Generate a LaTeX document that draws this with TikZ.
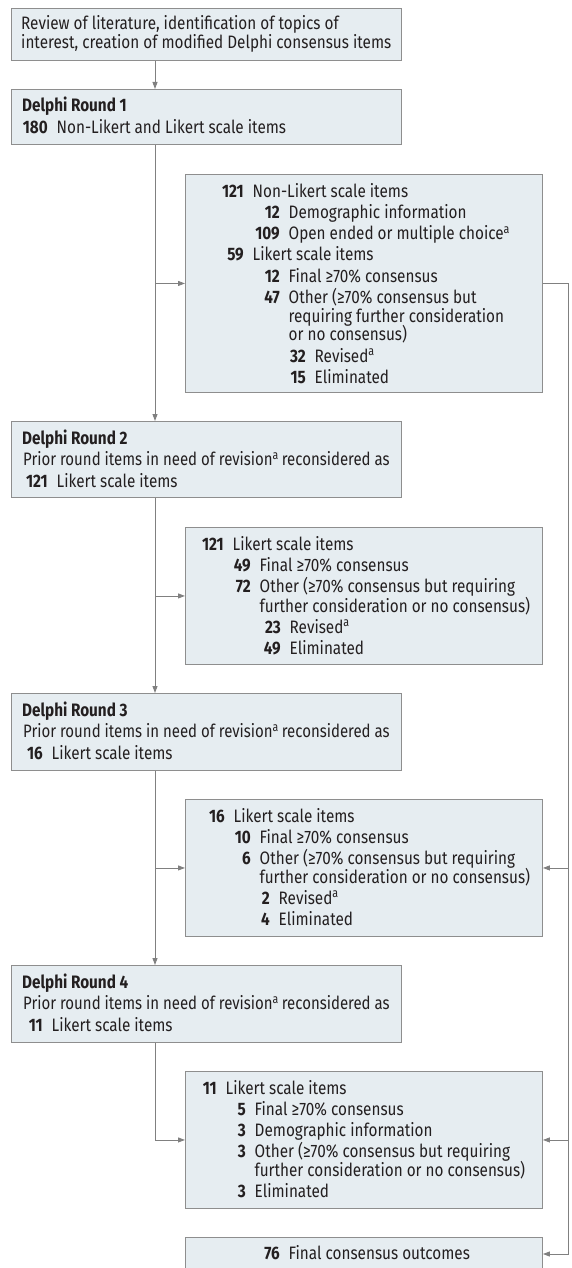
\documentclass[tikz,border=0pt]{standalone}
\usepackage{fontspec}
\setmainfont{Fira Sans}[FakeStretch=0.85]
\usetikzlibrary{arrows.meta,calc}
\definecolor{boxfill}{HTML}{E6EDF1}
\definecolor{boxline}{HTML}{8E8E8E}
\definecolor{conn}{HTML}{808080}
\definecolor{ink}{HTML}{231F20}
\newcommand\fsz{\fontsize{18}{21}\selectfont}
\tikzset{
  box/.style={draw=boxline, fill=boxfill, line width=0.9pt, rectangle, inner sep=0pt, anchor=north west},
  tx/.style={inner sep=0pt, text=ink, font=\fsz},
  nm/.style={tx, font=\fsz\bfseries, anchor=base east},
  bd/.style={tx, anchor=base west},
  hd/.style={tx, font=\fsz\bfseries, anchor=base west},
  pr/.style={bd, xscale=0.98, transform shape},
  conline/.style={draw=conn, line width=0.9pt},
  arr/.style={conline, -{Triangle[length=7pt,width=5pt]}}
}
\newcommand\itm[5]{%
  \node[nm] (#1n) at (#2,#3) {#4};
  \node[bd] (#1t) at ({#2+8.5},#3) {#5};}
\newcommand\sa{\textsuperscript{a}}
\newcommand\prior{Prior round items in need of revision\sa\hspace{3pt}reconsidered as}
\begin{document}
\begin{tikzpicture}[x=1pt,y=-1pt]
\useasboundingbox (0,0) rectangle (571,1268);
% boxes
\node[box, minimum width=390pt, minimum height=52pt] (b0) at (11,8) {};
\node[box, minimum width=390pt, minimum height=55pt] (r1) at (11,89) {};
\node[box, minimum width=357pt, minimum height=218pt] (s1) at (185,174) {};
\node[box, minimum width=390pt, minimum height=76pt] (r2) at (11,421) {};
\node[box, minimum width=357pt, minimum height=137pt] (s2) at (185,527) {};
\node[box, minimum width=390pt, minimum height=77pt] (r3) at (11,693) {};
\node[box, minimum width=357pt, minimum height=137pt] (s3) at (185,799) {};
\node[box, minimum width=390pt, minimum height=77pt] (r4) at (11,965) {};
\node[box, minimum width=357pt, minimum height=137pt] (s4) at (185,1071) {};
\node[box, minimum width=357pt, minimum height=60pt] (fin) at (185,1237) {};

% connectors
\coordinate (mx) at (155,0);
\coordinate (rx) at (568,0);
\draw[arr] (b0.south -| mx) -- (r1.north -| mx);
\draw[arr] (r1.south -| mx) -- (r2.north -| mx);
\draw[arr] (s1.west -| mx) -- (s1.west);
\draw[arr] (r2.south -| mx) -- (r3.north -| mx);
\draw[arr] (s2.west -| mx) -- (s2.west);
\draw[arr] (r3.south -| mx) -- (r4.north -| mx);
\draw[arr] (s3.west -| mx) -- (s3.west);
\draw[arr] (r4.south -| mx) -- (s4.west -| mx) -- (s4.west);
\coordinate (finin) at ($(fin.north east)+(0,17)$);
\draw[arr] (s1.east) -- (s1.east -| rx) -- (finin -| rx) -- (finin);
\draw[arr] (s3.east -| rx) -- (s3.east);
\draw[arr] (s4.east -| rx) -- (s4.east);

% box 0
\node[bd] (b0a) at (21,30) {Review of literature, identification of topics of};
\node[bd] (b0b) at (21,49) {interest, creation of modified Delphi consensus items};
% round 1
\node[hd] (r1a) at (22,112) {Delphi Round 1};
\itm{r1b}{48}{133.5}{180}{Non-Likert and Likert scale items}
% side 1
\itm{s1a}{244}{197}{121}{Non-Likert scale items}
\itm{s1b}{280}{218.3}{12}{Demographic information}
\itm{s1c}{280}{239.6}{109}{Open ended or multiple choice\sa}
\itm{s1d}{244}{260.9}{59}{Likert scale items}
\itm{s1e}{280}{282.2}{12}{Final ≥70\% consensus}
\itm{s1f}{280}{303.5}{47}{Other (≥70\% consensus but}
\node[bd] (s1g) at (288.5,322.2) {requiring further consideration};
\node[bd] (s1h) at (288.5,340.9) {or no consensus)};
\itm{s1i}{306}{362.2}{32}{Revised\sa}
\itm{s1j}{306}{383.5}{15}{Eliminated}
% round 2
\node[hd] (r2a) at (22,444) {Delphi Round 2};
\node[pr] (r2b) at (23,465.5) {\prior};
\itm{r2c}{48}{487.5}{121}{Likert scale items}
% side 2
\itm{s2a}{224}{550.5}{121}{Likert scale items}
\itm{s2b}{251}{571.5}{49}{Final ≥70\% consensus}
\itm{s2c}{251}{592.5}{72}{Other (≥70\% consensus but requiring}
\node[bd] (s2d) at (259.5,612) {further consideration or no consensus)};
\itm{s2e}{281}{633}{23}{Revised\sa}
\itm{s2f}{281}{654}{49}{Eliminated}
% round 3
\node[hd] (r3a) at (22,716) {Delphi Round 3};
\node[pr] (r3b) at (23,737.5) {\prior};
\itm{r3c}{43}{759.5}{16}{Likert scale items}
% side 3
\itm{s3a}{225}{822}{16}{Likert scale items}
\itm{s3b}{251}{843}{10}{Final ≥70\% consensus}
\itm{s3c}{251}{864}{6}{Other (≥70\% consensus but requiring}
\node[bd] (s3d) at (259.5,883) {further consideration or no consensus)};
\itm{s3e}{270}{904}{2}{Revised\sa}
\itm{s3f}{270}{925.5}{4}{Eliminated}
% round 4
\node[hd] (r4a) at (22,988) {Delphi Round 4};
\node[pr] (r4b) at (23,1009.5) {\prior};
\itm{r4c}{43}{1031.5}{11}{Likert scale items}
% side 4
\itm{s4a}{217}{1094}{11}{Likert scale items}
\itm{s4b}{246}{1115}{5}{Final ≥70\% consensus}
\itm{s4c}{246}{1136.5}{3}{Demographic information}
\itm{s4d}{246}{1157}{3}{Other (≥70\% consensus but requiring}
\node[bd] (s4e) at (254.5,1176.5) {further consideration or no consensus)};
\itm{s4f}{246}{1197}{3}{Eliminated}
% final
\itm{fina}{280}{1259.5}{76}{Final consensus outcomes}
\end{tikzpicture}
\end{document}
